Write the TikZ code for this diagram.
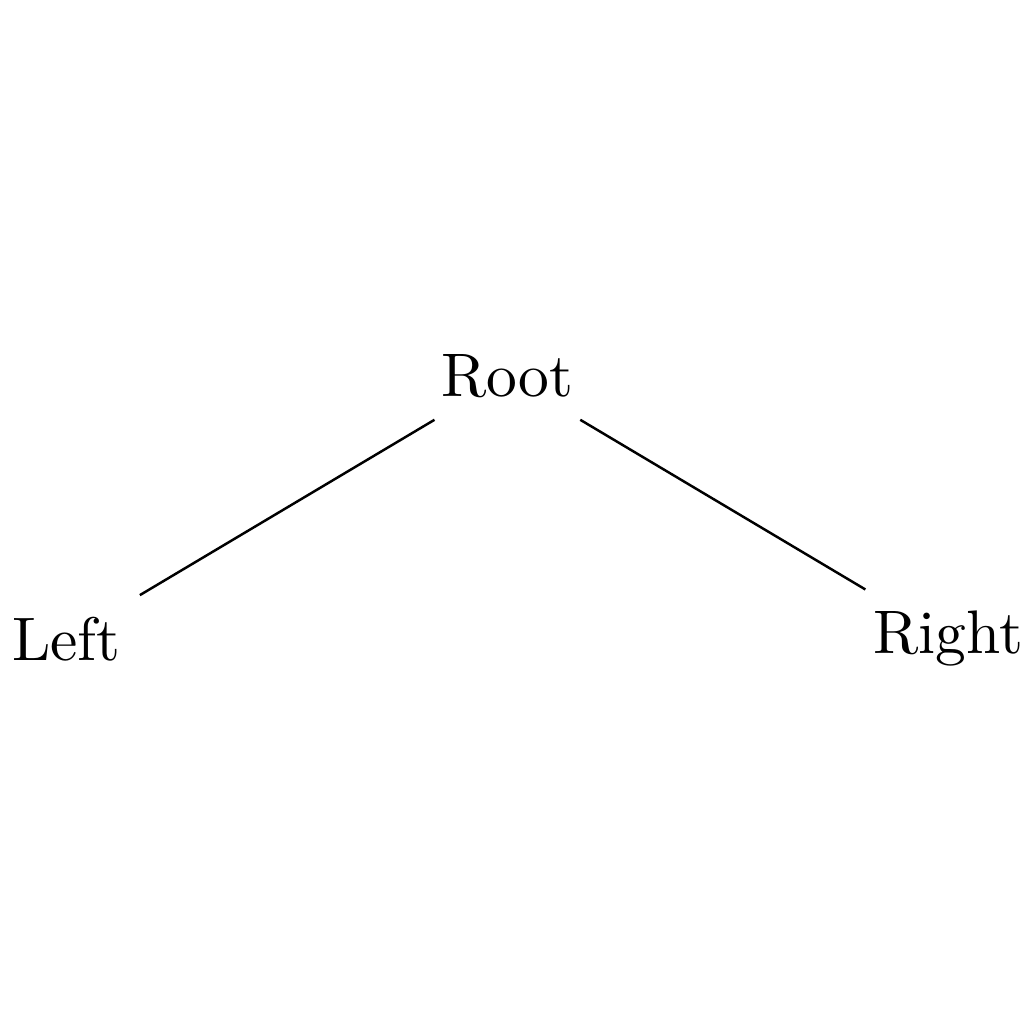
\documentclass[tikz,border=0pt]{standalone}
\begin{document}
\begin{tikzpicture}[
  treenode/.style={inner sep=.3333em},
  branch/.style={draw=black, line width=0.4pt}]
\useasboundingbox (-82.5pt,-105.3pt) rectangle (84.0pt,61.2pt);
\node[treenode] (root) at (0,0) {Root};
\node[treenode] (left) at (-2.52cm,-1.5cm) {Left};
\node[treenode] (right) at (2.52cm,-1.5cm) {Right};
\draw[branch] (root) -- (left);
\draw[branch] (root) -- (right);
\end{tikzpicture}
\end{document}
